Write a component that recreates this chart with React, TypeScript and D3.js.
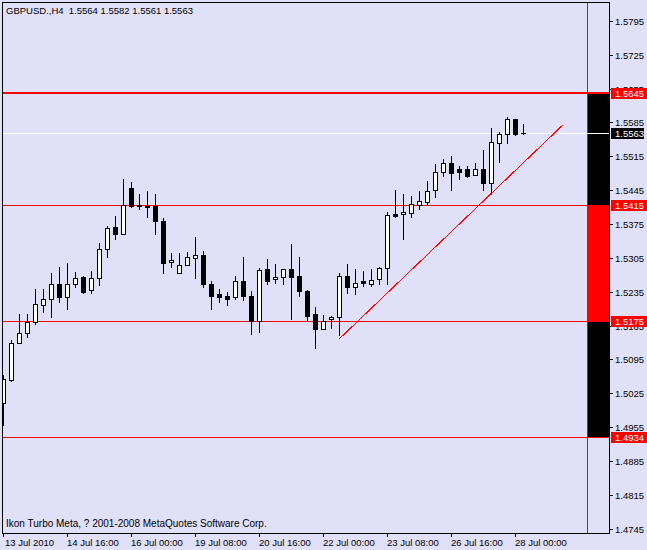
import React from "react";
import * as d3 from "d3";

const symbolTitle = "GBPUSD.,H4";
const footerText = "Ikon Turbo Meta, ? 2001-2008 MetaQuotes Software Corp.";

// OHLC of the 66 H4 bars (13 Jul 2010 08:00 .. 28 Jul 2010 04:00)
const opens = [
  1.5005, 1.5052, 1.5129, 1.5149, 1.5172, 1.5207, 1.5219, 1.525, 1.5224, 1.5252,
  1.5265, 1.5238, 1.5263, 1.5323, 1.5368, 1.5354, 1.545, 1.5415, 1.5413, 1.5413,
  1.5382, 1.5296, 1.5273, 1.529, 1.5304, 1.531, 1.5252, 1.523, 1.5226, 1.5224,
  1.5257, 1.5226, 1.5174, 1.5281, 1.5261, 1.5265, 1.5281, 1.5267, 1.5236, 1.5188,
  1.5157, 1.5178, 1.5182, 1.5267, 1.5244, 1.5257, 1.525, 1.5261, 1.5285, 1.5395,
  1.5395, 1.5397, 1.5415, 1.542, 1.5446, 1.5483, 1.5502, 1.5488, 1.5488, 1.5477,
  1.5488, 1.5459, 1.5543, 1.5562, 1.5591, 1.5564,
];
const highs = [
  1.5063, 1.5135, 1.5188, 1.5188, 1.524, 1.524, 1.5273, 1.5287, 1.5294, 1.5275,
  1.5267, 1.5277, 1.5335, 1.537, 1.5391, 1.5469, 1.5461, 1.5436, 1.5444, 1.5436,
  1.5387, 1.5316, 1.5316, 1.5318, 1.5349, 1.532, 1.5257, 1.524, 1.5234, 1.5267,
  1.5306, 1.5236, 1.5285, 1.5302, 1.5292, 1.5281, 1.5333, 1.5306, 1.5238, 1.5203,
  1.5186, 1.5184, 1.5273, 1.5292, 1.5283, 1.5277, 1.5283, 1.5287, 1.5399, 1.5446,
  1.5436, 1.5432, 1.5444, 1.5463, 1.5498, 1.551, 1.5516, 1.5494, 1.5494, 1.5502,
  1.5527, 1.5574, 1.5566, 1.5597, 1.5593, 1.5582,
];
const lows = [
  1.4959, 1.505, 1.5129, 1.5141, 1.5168, 1.5193, 1.5182, 1.5213, 1.5199, 1.5244,
  1.5232, 1.5232, 1.5248, 1.5306, 1.5345, 1.5354, 1.5411, 1.5407, 1.5389, 1.5354,
  1.5273, 1.5287, 1.5273, 1.529, 1.5263, 1.5244, 1.5199, 1.5213, 1.5207, 1.5221,
  1.5217, 1.5147, 1.5151, 1.5252, 1.5254, 1.5252, 1.5178, 1.5226, 1.5176, 1.5118,
  1.5157, 1.516, 1.5145, 1.5232, 1.523, 1.5246, 1.5246, 1.5252, 1.5252, 1.5389,
  1.5343, 1.5389, 1.5405, 1.5417, 1.543, 1.5475, 1.5446, 1.5469, 1.5473, 1.5477,
  1.5446, 1.5438, 1.5504, 1.5543, 1.5558, 1.5561,
];
const closes = [
  1.5054, 1.5129, 1.5149, 1.5172, 1.5209, 1.5219, 1.5252, 1.5224, 1.5252, 1.5263,
  1.5234, 1.5263, 1.5323, 1.5366, 1.5354, 1.5415, 1.5413, 1.5413, 1.5411, 1.5382,
  1.5294, 1.53, 1.529, 1.5306, 1.531, 1.5252, 1.5226, 1.5224, 1.5221, 1.5257,
  1.5226, 1.5174, 1.5279, 1.5257, 1.5265, 1.5281, 1.5265, 1.5236, 1.5184, 1.5157,
  1.5174, 1.5182, 1.5267, 1.5244, 1.5254, 1.5254, 1.5259, 1.5285, 1.5393, 1.5391,
  1.5399, 1.5417, 1.5422, 1.5444, 1.5483, 1.5502, 1.5481, 1.5483, 1.5475, 1.5488,
  1.5459, 1.5545, 1.5562, 1.5591, 1.556, 1.5563,
];

const xTickLabels = [
  "13 Jul 2010", "14 Jul 16:00", "16 Jul 00:00", "19 Jul 08:00", "20 Jul 16:00",
  "22 Jul 00:00", "23 Jul 08:00", "26 Jul 16:00", "28 Jul 00:00",
];
const barsPerXTick = 8;

const yTickValues = [
  1.5795, 1.5725, 1.5655, 1.5585, 1.5515, 1.5445, 1.5375, 1.5305,
  1.5235, 1.5165, 1.5095, 1.5025, 1.4955, 1.4885, 1.4815, 1.4745,
];

const levelPrices = [1.5645, 1.5415, 1.5175, 1.4934];
const levelWidths = [2, 1, 1, 1];
const zoneColors = ["#000000", "#ff0000", "#000000"];
const bidPrice = 1.5563;
const trendBars = [42, 70];
const trendPrices = [1.5137, 1.558];

const W = 647;
const H = 550;
const plotLeft = 3;
const plotRight = 609;
const plotTop = 3;
const plotBottom = 533;
const zoneLeft = 587;
const FONT = "'Liberation Sans', Arial, sans-serif";
const BG = "#e0e0f8";

export default function App() {
  const x = d3.scaleLinear().domain([0, 75]).range([3, 603]);
  const y = d3.scaleLinear().domain([1.4745, 1.5795]).range([528.8, 20.8]);
  const ry = (v: number) => Math.round(y(v));

  const candles = opens.map((o, i) => {
    const c = closes[i];
    const cx = Math.round(x(i));
    const yh = ry(highs[i]);
    const yl = ry(lows[i]);
    const yo = ry(o);
    const yc = ry(c);
    const top = Math.min(yo, yc);
    const bot = Math.max(yo, yc);
    const bull = c > o;
    return (
      <g key={i}>
        <rect x={cx} y={yh} width={1} height={yl - yh + 1} fill="#000" />
        <rect x={cx - 2} y={top} width={5} height={bot - top + 1} fill="#000" />
        {bull && bot - top - 1 > 0 && (
          <rect x={cx - 1} y={top + 1} width={3} height={bot - top - 1} fill="#fff" />
        )}
      </g>
    );
  });

  const levelYs = levelPrices.map(ry);

  return (
    <svg
      width={W}
      height={H}
      style={{ position: "fixed", left: 0, top: 0, display: "block" }}
      shapeRendering="crispEdges"
    >
      <defs>
        <clipPath id="plotClip">
          <rect x={plotLeft} y={plotTop} width={plotRight - plotLeft} height={plotBottom - plotTop} />
        </clipPath>
      </defs>
      <rect x={0} y={0} width={W} height={H} fill={BG} />

      {/* zones at right */}
      {zoneColors.map((col, i) => (
        <rect
          key={"z" + i}
          x={zoneLeft + 1}
          y={levelYs[i] + 1}
          width={plotRight - zoneLeft - 1}
          height={levelYs[i + 1] - levelYs[i] - 1}
          fill={col}
        />
      ))}

      {/* level lines */}
      {levelPrices.map((p, i) => (
        <rect
          key={"l" + i}
          x={plotLeft}
          y={levelYs[i] - (levelWidths[i] - 1)}
          width={plotRight - plotLeft}
          height={levelWidths[i]}
          fill="#ff0000"
        />
      ))}
      <rect x={zoneLeft} y={plotTop} width={1} height={plotBottom - plotTop} fill="#ff0000" />

      {/* bid line */}
      <rect x={plotLeft} y={ry(bidPrice)} width={plotRight - plotLeft} height={1} fill="#ffffff" />

      <g clipPath="url(#plotClip)">
        {candles}
        <line
          x1={x(trendBars[0])}
          y1={y(trendPrices[0])}
          x2={x(trendBars[1])}
          y2={y(trendPrices[1])}
          stroke="#ff0000"
          strokeWidth={1}
        />
      </g>

      {/* frame */}
      <rect
        x={plotLeft - 0.5}
        y={plotTop - 0.5}
        width={plotRight - plotLeft + 1}
        height={plotBottom - plotTop + 1}
        fill="none"
        stroke="#000"
      />

      {/* right axis */}
      {yTickValues.map((v, i) => (
        <g key={"yt" + i}>
          <rect x={plotRight + 1} y={ry(v)} width={3} height={1} fill="#000" />
          <text
            x={615}
            y={ry(v) + 0.5}
            dy="0.35em"
            fontFamily={FONT}
            fontSize={9.5}
            fill="#000"
          >
            {v.toFixed(4)}
          </text>
        </g>
      ))}

      {/* level labels */}
      {levelPrices.map((p, i) => (
        <g key={"lb" + i}>
          <rect x={611} y={levelYs[i] - 5} width={36} height={11} fill="#ff0000" />
          <text x={615} y={levelYs[i] + 0.5} dy="0.35em" fontFamily={FONT} fontSize={9.5} fill="#fff">
            {p.toFixed(4)}
          </text>
        </g>
      ))}
      <rect x={611} y={ry(bidPrice) - 5} width={33} height={11} fill="#000" />
      <text x={615} y={ry(bidPrice) + 0.5} dy="0.35em" fontFamily={FONT} fontSize={9.5} fill="#fff">
        {bidPrice.toFixed(4)}
      </text>

      {/* bottom axis */}
      {xTickLabels.map((lab, i) => {
        const tx = Math.round(x(i * barsPerXTick));
        return (
          <g key={"xt" + i}>
            <rect x={tx} y={plotBottom + 1} width={1} height={3} fill="#000" />
            <text x={Math.max(tx, 5)} y={546} fontFamily={FONT} fontSize={9.5} fill="#000">
              {lab}
            </text>
          </g>
        );
      })}

      {/* title & footer */}
      <text x={6} y={14} fontFamily={FONT} fontSize={9.5} fill="#000" xmlSpace="preserve">
        {`${symbolTitle}  ${opens[opens.length - 1].toFixed(4)} ${highs[highs.length - 1].toFixed(4)} ${lows[lows.length - 1].toFixed(4)} ${closes[closes.length - 1].toFixed(4)}`}
      </text>
      <text x={6} y={527} fontFamily={FONT} fontSize={10} fill="#000">
        {footerText}
      </text>
    </svg>
  );
}
